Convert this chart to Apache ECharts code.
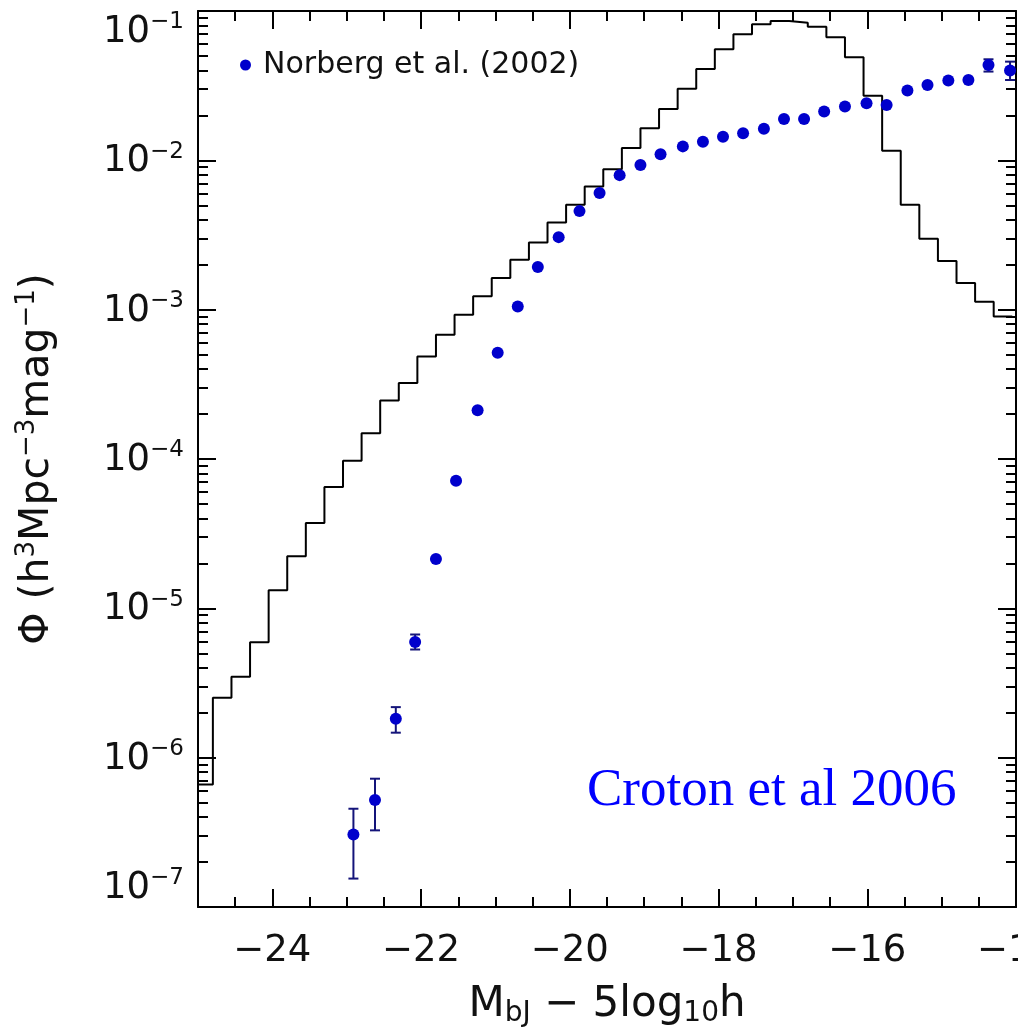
<!DOCTYPE html>
<html>
<head>
<meta charset="utf-8">
<script src="https://cdn.jsdelivr.net/npm/echarts@6/dist/echarts.min.js"></script>
<style>
  html, body { margin: 0; padding: 0; background: #fff; }
  #chart { width: 1018px; height: 1031px; }
</style>
</head>
<body>
<div id="chart"></div>
<script>
// Model luminosity function: left edge of each 0.25 mag bin and its value
const modelBinStart = [
  -25.05, -24.80, -24.55, -24.30, -24.05, -23.80, -23.55, -23.30, -23.05, -22.80,
  -22.55, -22.30, -22.05, -21.80, -21.55, -21.30, -21.05, -20.80, -20.55, -20.30,
  -20.05, -19.80, -19.55, -19.30, -19.05, -18.80, -18.55, -18.30, -18.05, -17.80,
  -17.55, -17.30, -17.05, -16.80, -16.55, -16.30, -16.05, -15.80, -15.55, -15.30,
  -15.05, -14.80, -14.55, -14.30
];
const modelBinLastEnd = -14.05;
const modelPhi = [
  6.62e-7, 2.52e-6, 3.48e-6, 5.93e-6, 1.32e-5, 2.23e-5, 3.73e-5, 6.50e-5, 9.75e-5, 1.49e-4,
  2.46e-4, 3.23e-4, 4.86e-4, 6.79e-4, 9.25e-4, 1.23e-3, 1.63e-3, 2.16e-3, 2.82e-3, 3.83e-3,
  5.04e-3, 6.68e-3, 8.73e-3, 1.21e-2, 1.64e-2, 2.21e-2, 3.01e-2, 4.09e-2, 5.54e-2, 6.98e-2,
  8.15e-2, 8.57e-2, 8.35e-2, 7.85e-2, 6.67e-2, 4.90e-2, 2.71e-2, 1.16e-2, 5.04e-3, 2.98e-3,
  2.12e-3, 1.51e-3, 1.13e-3, 9.0e-4
];

// Norberg et al. (2002) 2dFGRS measurements
const obsMag = [
  -22.91, -22.62, -22.34, -22.08, -21.80, -21.53, -21.24, -20.97, -20.70, -20.43,
  -20.15, -19.87, -19.60, -19.33, -19.05, -18.78, -18.48, -18.21, -17.94, -17.67,
  -17.39, -17.12, -16.85, -16.58, -16.30, -16.01, -15.74, -15.46, -15.19, -14.91,
  -14.64, -14.37, -14.08
];
const obsPhi = [
  3.06e-7, 5.20e-7, 1.82e-6, 5.95e-6, 2.14e-5, 7.16e-5, 2.12e-4, 5.15e-4, 1.05e-3, 1.93e-3,
  3.06e-3, 4.57e-3, 6.05e-3, 7.96e-3, 9.32e-3, 1.10e-2, 1.24e-2, 1.33e-2, 1.44e-2, 1.52e-2,
  1.63e-2, 1.89e-2, 1.89e-2, 2.12e-2, 2.29e-2, 2.41e-2, 2.35e-2, 2.93e-2, 3.20e-2, 3.42e-2,
  3.45e-2, 4.35e-2, 3.99e-2
];
const obsErrLow = [
  1.55e-7, 3.26e-7, 1.47e-6, 5.30e-6, null, null, null, null, null, null,
  null, null, null, null, null, null, null, null, null, null,
  null, null, null, null, null, null, null, null, null, null,
  null, 3.93e-2, 3.45e-2
];
const obsErrHigh = [
  4.55e-7, 7.23e-7, 2.18e-6, 6.68e-6, null, null, null, null, null, null,
  null, null, null, null, null, null, null, null, null, null,
  null, null, null, null, null, null, null, null, null, null,
  null, 4.75e-2, 4.58e-2
];

// Axis ticks
const xTickValues = [-24, -22, -20, -18, -16, -14];
const yTickValues = [1e-7, 1e-6, 1e-5, 1e-4, 1e-3, 1e-2, 1e-1];
const xMin = -25, xMax = -14;
const yMin = 1e-7, yMax = 1e-1;

// minor ticks: every 0.5 mag, and 2..9 within each decade
const xMinorTicks = [];
for (let v = xMin; v <= xMax + 1e-9; v += 0.5) {
  if (Math.abs(v % 2) > 1e-9) xMinorTicks.push(+v.toFixed(2));
}
const yMinorTicks = [];
for (let e = -7; e < -1; e++) {
  for (let k = 2; k <= 9; k++) yMinorTicks.push(+(k * Math.pow(10, e)).toPrecision(3));
}

const FONT = '"DejaVu Sans", sans-serif';
const AXIS_COLOR = '#000';
const MARK_BLUE = '#0000cc';

const histData = modelBinStart.map((x, i) => [x, modelPhi[i]]);
histData.push([modelBinLastEnd, modelPhi[modelPhi.length - 1]]);

const pointData = obsMag.map((x, i) => [x, obsPhi[i]]);
const errData = [];
obsMag.forEach((x, i) => {
  if (obsErrLow[i] != null) errData.push([x, obsErrLow[i], obsErrHigh[i]]);
});

function yLabel(v) {
  const e = Math.round(Math.log10(v));
  return '{b|10}{s|\u2212' + (-e) + '}';
}
function xLabel(v) {
  return v < 0 ? '\u2212' + Math.abs(v) : String(v);
}

const lineStyle = { color: AXIS_COLOR, width: 2 };

function xAxisDef(position, major, withLabels) {
  return {
    type: 'value', min: xMin, max: xMax, position: position,
    axisLine: { show: major, onZero: false, lineStyle: lineStyle },
    axisTick: {
      show: true, inside: true, length: major ? 18 : 10,
      customValues: major ? xTickValues : xMinorTicks, lineStyle: lineStyle
    },
    axisLabel: withLabels ? {
      show: true, customValues: xTickValues, margin: 26,
      formatter: xLabel, color: '#111', fontFamily: FONT, fontSize: 37,
      showMinLabel: true, showMaxLabel: true
    } : { show: false },
    splitLine: { show: false }
  };
}
function yAxisDef(position, major, withLabels) {
  return {
    type: 'log', logBase: 10, min: yMin, max: yMax, position: position,
    axisLine: { show: major, onZero: false, lineStyle: lineStyle },
    axisTick: {
      show: true, inside: true, length: major ? 18 : 10,
      customValues: major ? yTickValues : yMinorTicks, lineStyle: lineStyle
    },
    axisLabel: withLabels ? {
      show: true, customValues: yTickValues, margin: 14,
      formatter: yLabel, color: '#111', fontFamily: FONT,
      verticalAlignMinLabel: 'bottom', verticalAlignMaxLabel: 'top',
      showMinLabel: true, showMaxLabel: true,
      rich: {
        b: { fontSize: 37, fontFamily: FONT, color: '#111', lineHeight: 40, verticalAlign: 'bottom' },
        s: { fontSize: 23, fontFamily: FONT, color: '#111', lineHeight: 27, verticalAlign: 'top' }
      }
    } : { show: false },
    splitLine: { show: false }
  };
}

const xMain = xAxisDef('bottom', true, true);
xMain.name = '{t|M}{b|bJ}{t| \u2212 5log}{b|10}{t|h}';
xMain.nameLocation = 'middle';
xMain.nameGap = 77;
xMain.nameTextStyle = {
  rich: {
    t: { fontSize: 42, fontFamily: FONT, color: '#111', lineHeight: 44, verticalAlign: 'top' },
    b: { fontSize: 28, fontFamily: FONT, color: '#111', lineHeight: 32, verticalAlign: 'bottom' }
  }
};

const yMain = yAxisDef('left', true, true);
yMain.name = '{t|\u03A6 (h}{s|3}{t|Mpc}{s|\u22123}{t|mag}{s|\u22121}{t|)}';
yMain.nameLocation = 'middle';
yMain.nameGap = 140;
yMain.nameTextStyle = {
  rich: {
    t: { fontSize: 41, fontFamily: FONT, color: '#111', lineHeight: 44, verticalAlign: 'bottom' },
    s: { fontSize: 26, fontFamily: FONT, color: '#111', lineHeight: 30, verticalAlign: 'top' }
  }
};

const chart = echarts.init(document.getElementById('chart'), null, { renderer: 'canvas' });
chart.setOption({
  animation: false,
  backgroundColor: '#fff',
  grid: { left: 198, right: 2, top: 11, bottom: 124, containLabel: false, outerBoundsMode: 'none' },
  xAxis: [
    xMain,
    xAxisDef('bottom', false, false),
    xAxisDef('top', true, false),
    xAxisDef('top', false, false)
  ],
  yAxis: [
    yMain,
    yAxisDef('left', false, false),
    yAxisDef('right', true, false),
    yAxisDef('right', false, false)
  ],
  legend: {
    data: [{ name: 'Norberg et al. (2002)', icon: 'circle' }],
    left: 235, top: 45,
    itemWidth: 11, itemHeight: 11,
    textStyle: { fontFamily: FONT, fontSize: 30, color: '#111', padding: [0, 0, 0, 7] },
    selectedMode: false
  },
  graphic: [{
    type: 'text', left: 587, top: 765, z: 10,
    style: { text: 'Croton et al 2006', fill: '#0000ff', font: '53px "Liberation Serif", "Times New Roman", serif' }
  }],
  series: [
    {
      name: 'model', type: 'line', step: 'end', data: histData,
      xAxisIndex: 0, yAxisIndex: 0,
      symbol: 'none', clip: true, z: 2,
      lineStyle: { color: '#000', width: 2 }
    },
    {
      name: 'errors', type: 'custom', data: errData,
      xAxisIndex: 0, yAxisIndex: 0, z: 3, clip: true,
      encode: { x: 0, y: [1, 2] },
      renderItem: function (params, api) {
        const x = api.value(0);
        const top = api.coord([x, api.value(2)]);
        const bot = api.coord([x, api.value(1)]);
        const w = 5;
        const st = { stroke: '#14147a', lineWidth: 2 };
        return {
          type: 'group',
          children: [
            { type: 'line', shape: { x1: top[0], y1: top[1], x2: bot[0], y2: bot[1] }, style: st },
            { type: 'line', shape: { x1: top[0] - w, y1: top[1], x2: top[0] + w, y2: top[1] }, style: st },
            { type: 'line', shape: { x1: bot[0] - w, y1: bot[1], x2: bot[0] + w, y2: bot[1] }, style: st }
          ]
        };
      }
    },
    {
      name: 'Norberg et al. (2002)', type: 'scatter', data: pointData,
      xAxisIndex: 0, yAxisIndex: 0, z: 4,
      symbol: 'circle', symbolSize: 12,
      itemStyle: { color: MARK_BLUE, opacity: 1 }
    }
  ]
});
</script>
</body>
</html>
